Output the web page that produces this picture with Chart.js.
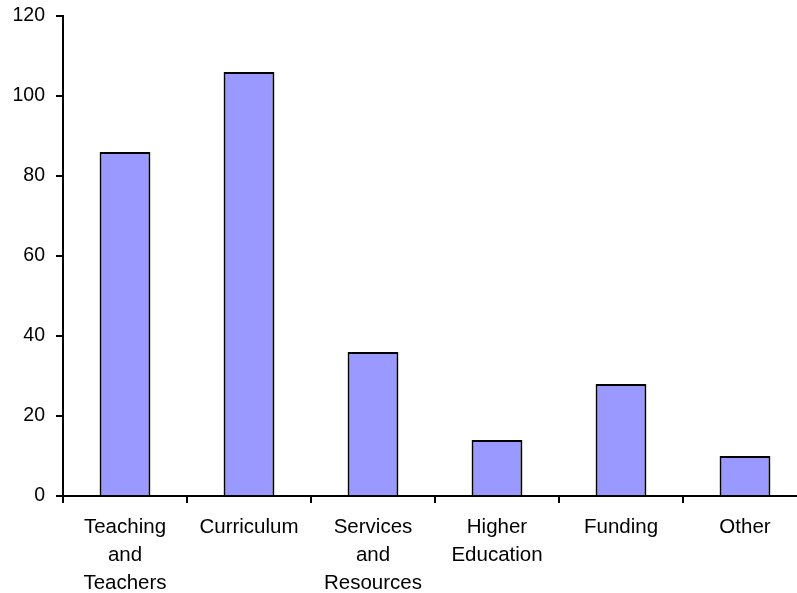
<!DOCTYPE html>
<html>
<head>
<meta charset="utf-8">
<script src="https://cdn.jsdelivr.net/npm/chart.js@4/dist/chart.umd.min.js"></script>
<style>
  html, body { margin: 0; padding: 0; background: #fff; overflow: hidden; }
  #wrap { width: 810px; height: 593px; }
</style>
</head>
<body>
<div id="wrap"><canvas id="grafic"></canvas></div>
<script>
// categories and counts
let categories = [
	["Teaching", "and", "Teachers"],
	"Curriculum",
	["Services", "and", "Resources"],
	["Higher", "Education"],
	"Funding",
	"Other"
];
let counts = [86, 106, 36, 14, 28, 10];
let yTicks = [0, 20, 40, 60, 80, 100, 120];

const data = {
	labels: categories,
	datasets: [{
		data: counts,
		backgroundColor: "#9999ff",
		borderColor: "#000000",
		borderWidth: 2,
		borderSkipped: "bottom",
		categoryPercentage: 1,
		barPercentage: 0.41
	}]
};

const config = {
	type: "bar",
	data: data,
	options: {
		responsive: true,
		maintainAspectRatio: false,
		animation: false,
		devicePixelRatio: 1,
		layout: { padding: { top: 16, right: 3, left: 0, bottom: 0 } },
		plugins: {
			legend: { display: false },
			tooltip: { enabled: false }
		},
		scales: {
			x: {
				offset: true,
				border: { color: "#000", width: 2 },
				grid: {
					offset: true,
					drawOnChartArea: false,
					drawTicks: true,
					tickLength: 7,
					color: "#000",
					lineWidth: 2
				},
				ticks: {
					color: "#000",
					font: { family: "Liberation Sans, Arial", size: 20.5, lineHeight: 1.37 },
					padding: 10,
					maxRotation: 0,
					autoSkip: false
				},
				afterFit: (scale) => { scale.height = 97; }
			},
			y: {
				min: 0,
				max: 120,
				border: { color: "#000", width: 2 },
				grid: {
					drawOnChartArea: false,
					drawTicks: true,
					tickLength: 7,
					color: "#000",
					lineWidth: 2
				},
				afterBuildTicks: (scale) => {
					scale.ticks = yTicks.map(v => ({ value: v }));
				},
				ticks: {
					color: "#000",
					font: { family: "Liberation Sans, Arial", size: 19.5 },
					padding: 11
				},
				afterFit: (scale) => {
					scale.width = 63;
					scale.paddingTop = 0;
					scale.paddingBottom = 0;
				}
			}
		}
	}
};

const grafic = new Chart(document.getElementById("grafic"), config);
</script>
</body>
</html>
